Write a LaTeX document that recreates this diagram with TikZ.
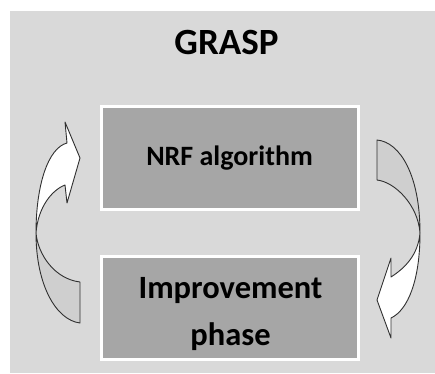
\documentclass[tikz,border=0pt]{standalone}
\usepackage{fontspec}
\setmainfont{Carlito}
\definecolor{bg}{HTML}{D9D9D9}
\definecolor{boxfill}{HTML}{A6A6A6}
\definecolor{backside}{HTML}{CFCFCF}
\definecolor{edge}{HTML}{303030}
\begin{document}
\begin{tikzpicture}[x=1pt,y=-1pt,
  stage/.style={draw=white, line width=3pt, fill=boxfill,
    minimum width=257pt, minimum height=103pt, inner sep=0pt},
  stagetext/.style={inner sep=0pt, align=center},
  arrowpart/.style={draw=edge, line width=0.9pt, line join=round}]
  \useasboundingbox (0,0) rectangle (435,373);
  \fill[white] (0,0) rectangle (435,373);
  \fill[bg] (10,11) rectangle (435,373);

  \node[font=\bfseries\fontsize{37}{42}\selectfont] (title) at (226.5,42) {GRASP};

  % the two stages
  \node[stage] (nrf) at (230,158) {};
  \node[stage] (impr) at (230,308) {};
  \node[stagetext, font=\bfseries\fontsize{28}{33}\selectfont] (nrftext) at (229.5,158) {NRF algorithm};
  \node[stagetext, font=\bfseries\fontsize{32.5}{47}\selectfont] (imprtext) at (230.5,314) {Improvement\\phase};

  % left curved arrow: back side (lower) and front side with head (upper)
  \filldraw[arrowpart, fill=backside]
    (80,282) -- (80,323) .. controls (56,320) and (36,285) .. (36,233)
    .. controls (38,255) and (55,279) .. (80,282) -- cycle;
  \filldraw[arrowpart, fill=white]
    (36,233) .. controls (36,185) and (48,148) .. (67,143)
    -- (65,122) -- (80,158) -- (67,203) -- (65,185)
    .. controls (52,190) and (38,207) .. (36,233) -- cycle;

  % right curved arrow: back side (upper) and front side with head (lower)
  \filldraw[arrowpart, fill=backside]
    (377,140) -- (377,180) .. controls (395,182) and (418,205) .. (420,233)
    .. controls (420,175) and (400,142) .. (377,140) -- cycle;
  \filldraw[arrowpart, fill=white]
    (420,233) .. controls (420,280) and (408,310) .. (391,318)
    -- (391,338) -- (377,300) -- (391,258) -- (391,277)
    .. controls (405,268) and (418,255) .. (420,233) -- cycle;
\end{tikzpicture}
\end{document}
